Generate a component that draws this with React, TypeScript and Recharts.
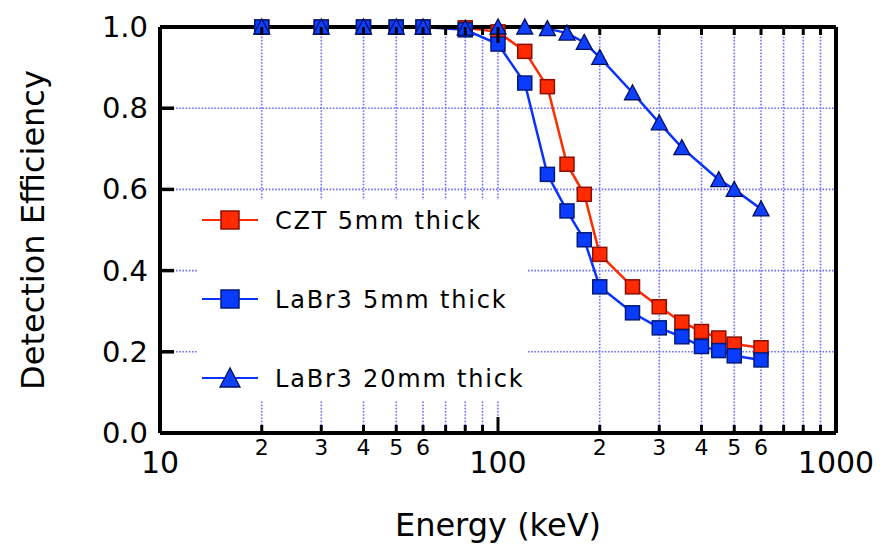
import { LineChart, Line, XAxis, YAxis, CartesianGrid, Legend } from "recharts";

const energies = [20, 30, 40, 50, 60, 80, 100, 120, 140, 160, 180, 200, 250, 300, 350, 400, 450, 500, 600];
const cztValues = [1, 1, 1, 1, 1, 0.998, 0.988, 0.94, 0.853, 0.662, 0.588, 0.44, 0.36, 0.311, 0.273, 0.25, 0.234, 0.219, 0.21];
const labr5Values = [1, 1, 1, 1, 1, 0.993, 0.958, 0.862, 0.637, 0.547, 0.476, 0.36, 0.296, 0.259, 0.237, 0.213, 0.203, 0.19, 0.18];
const labr20Energies = [20, 30, 40, 50, 60, 80, 100, 120, 140, 160, 180, 200, 250, 300, 350, 450, 500, 600];
const labr20Values = [1, 1, 1, 1, 1, 0.997, 1, 1, 0.996, 0.985, 0.962, 0.925, 0.838, 0.764, 0.703, 0.624, 0.6, 0.552];

const xTicks = [10, 20, 30, 40, 50, 60, 70, 80, 90, 100, 200, 300, 400, 500, 600, 700, 800, 900, 1000];
const xMajorLabels = [10, 100, 1000];
const xMinorLabeled = [2, 3, 4, 5, 6];
const yTicks = [0, 0.2, 0.4, 0.6, 0.8, 1.0];

const toPoints = (xs: number[], ys: number[]) => xs.map((e, i) => ({ e, v: ys[i] }));

const series = [
  { name: "CZT 5mm thick", color: "#ff2a00", fill: "#ff2a00", edge: "#8a0f00", shape: "square", data: toPoints(energies, cztValues) },
  { name: "LaBr3 5mm thick", color: "#0a32ff", fill: "#0a3cff", edge: "#001a7a", shape: "square", data: toPoints(energies, labr5Values) },
  { name: "LaBr3 20mm thick", color: "#0a32ff", fill: "#1040ff", edge: "#001060", shape: "triangle", data: toPoints(labr20Energies, labr20Values) },
];

const axisFont = "'DejaVu Sans', sans-serif";
const legendFont = "'DejaVu Sans', sans-serif";
const frame = { stroke: "#000", strokeWidth: 4 };

function Marker({ cx, cy, shape, fill, edge, size }: any) {
  if (cx == null || cy == null) return null;
  if (shape === "triangle") {
    const w = size + 2;
    const h = size;
    return (
      <polygon
        points={`${cx},${cy - h / 2 - 1} ${cx - w / 2},${cy + h / 2} ${cx + w / 2},${cy + h / 2}`}
        fill={fill}
        stroke={edge}
        strokeWidth={1.3}
      />
    );
  }
  return <rect x={cx - size / 2} y={cy - size / 2} width={size} height={size} fill={fill} stroke={edge} strokeWidth={1.5} />;
}

function isMajor(v: number) {
  return xMajorLabels.includes(v);
}

function mantissa(v: number) {
  const p = Math.pow(10, Math.floor(Math.log10(v) + 1e-9));
  return Math.round(v / p);
}

function BottomTick({ x, y, payload }: any) {
  const v = payload.value;
  const major = isMajor(v);
  const m = mantissa(v);
  return (
    <g>
      <line x1={x} x2={x} y1={y} y2={y - (major ? 16 : 8)} stroke="#000" strokeWidth={3} />
      {major ? (
        <text x={x} y={y + 40} textAnchor="middle" fontSize={30} fontFamily={axisFont} fill="#000">
          {v}
        </text>
      ) : xMinorLabeled.includes(m) ? (
        <text x={x} y={y + 22} textAnchor="middle" fontSize={22} fontFamily={axisFont} fill="#000">
          {m}
        </text>
      ) : null}
    </g>
  );
}

function TopTick({ x, y, payload }: any) {
  const major = isMajor(payload.value);
  return <line x1={x} x2={x} y1={y} y2={y + (major ? 16 : 8)} stroke="#000" strokeWidth={3} />;
}

function LeftTick({ x, y, payload }: any) {
  return (
    <g>
      <line x1={x} x2={x + 14} y1={y} y2={y} stroke="#000" strokeWidth={3.5} />
      <text x={x - 12} y={y + 10} textAnchor="end" fontSize={29} fontFamily={axisFont} fill="#000">
        {Number(payload.value).toFixed(1)}
      </text>
    </g>
  );
}

function RightTick({ x, y }: any) {
  return <line x1={x} x2={x - 14} y1={y} y2={y} stroke="#000" strokeWidth={3.5} />;
}

function LegendBox() {
  return (
    <svg width={331} height={200}>
      {series.map((s, i) => {
        const cy = 20 + i * 79;
        return (
          <g key={s.name}>
            <line x1={5} x2={61} y1={cy} y2={cy} stroke={s.color} strokeWidth={1.8} />
            <Marker cx={33} cy={cy} shape={s.shape} fill={s.fill} edge={s.edge} size={18} />
            <text x={78} y={cy + 9} fontSize={24} letterSpacing={1.8} fontFamily={legendFont} fill="#000">
              {s.name}
            </text>
          </g>
        );
      })}
    </svg>
  );
}

export default function App() {
  return (
    <div style={{ position: "absolute", left: 0, top: 0, width: 888, height: 550, background: "#fff" }}>
      <LineChart width={888} height={550} margin={{ top: 17, right: 42, bottom: 87, left: 10 }}>
        <CartesianGrid stroke="#6f6fff" strokeWidth={1.6} strokeDasharray="1.6 1.6" />
        <XAxis
          dataKey="e"
          type="number"
          scale="log"
          domain={[10, 1000]}
          ticks={xTicks}
          interval={0}
          allowDataOverflow
          height={30}
          tickSize={0}
          tickMargin={0}
          tickLine={false}
          stroke="#000"
          strokeWidth={4}
          axisLine={frame}
          tick={<BottomTick />}
          label={{ value: "Energy (keV)", position: "bottom", offset: 50, fontSize: 32, fontFamily: axisFont, fill: "#000", strokeWidth: 0 }}
        />
        <XAxis
          xAxisId="top"
          orientation="top"
          dataKey="e"
          type="number"
          scale="log"
          domain={[10, 1000]}
          ticks={xTicks}
          interval={0}
          allowDataOverflow
          height={10}
          tickSize={0}
          tickMargin={0}
          tickLine={false}
          stroke="#000"
          strokeWidth={4}
          axisLine={frame}
          tick={<TopTick />}
        />
        <YAxis
          type="number"
          domain={[0, 1]}
          ticks={yTicks}
          interval={0}
          width={150}
          tickSize={0}
          tickMargin={0}
          tickLine={false}
          stroke="#000"
          strokeWidth={4}
          axisLine={frame}
          tick={<LeftTick />}
          label={{
            value: "Detection Efficiency",
            angle: -90,
            position: "insideLeft",
            offset: 23,
            fontSize: 32,
            fontFamily: axisFont,
            fill: "#000",
            strokeWidth: 0,
            style: { textAnchor: "middle" },
          }}
        />
        <YAxis
          yAxisId="right"
          orientation="right"
          type="number"
          domain={[0, 1]}
          ticks={yTicks}
          interval={0}
          width={10}
          tickSize={0}
          tickMargin={0}
          tickLine={false}
          stroke="#000"
          strokeWidth={4}
          axisLine={frame}
          tick={<RightTick />}
        />
        <Legend
          layout="horizontal"
          verticalAlign="middle"
          align="center"
          content={() => <LegendBox />}
          wrapperStyle={{ left: 197, top: 200, width: 331, height: 200, background: "#fff" }}
        />
        {series.map((s) => (
          <Line
            key={s.name}
            data={s.data}
            dataKey="v"
            name={s.name}
            stroke={s.color}
            strokeWidth={2.5}
            isAnimationActive={false}
            dot={(p: any) => <Marker key={`${s.name}-${p.index}`} cx={p.cx} cy={p.cy} shape={s.shape} fill={s.fill} edge={s.edge} size={14} />}
            activeDot={false}
          />
        ))}
      </LineChart>
    </div>
  );
}
